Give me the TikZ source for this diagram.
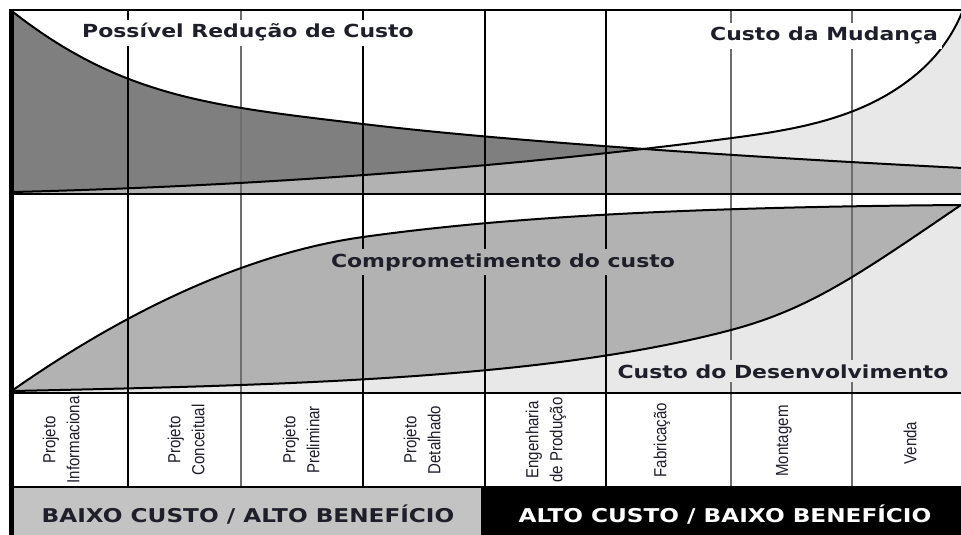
\documentclass[tikz,border=0pt]{standalone}
\usepackage{fontspec}
\setmainfont{Liberation Sans}
\newfontfamily\curvefont{DejaVu Sans}[FakeStretch=1.22]
\newfontfamily\phasefont{Liberation Sans}[FakeStretch=0.86]
\definecolor{darkfill}{HTML}{7F7F7F}
\definecolor{midfill}{HTML}{B2B2B2}
\definecolor{lightfill}{HTML}{E8E8E8}
\definecolor{barfill}{HTML}{C3C3C3}
\definecolor{ink}{HTML}{1F1F2A}
\definecolor{rulegray}{HTML}{6E6E6E}

\begin{document}
\begin{tikzpicture}[x=1pt, y=-1pt,
    curve/.style = {line width=2pt, line join=round},
    frame/.style = {line width=2.5pt},
    divider/.style = {line width=1.4pt},
    title/.style = {font=\curvefont\bfseries\fontsize{18}{20}\selectfont, text=ink, inner sep=4pt},
    band/.style = {font=\curvefont\bfseries\fontsize{19}{22}\selectfont, inner sep=0pt},
    phase/.style = {font=\phasefont\fontsize{17.5}{24}\selectfont, text=ink, rotate=90, align=center, inner sep=0pt},
    reducao/.style = {insert path={.. controls (123,97.8) and (213,106) .. (363,124) .. controls (513,142) and (763,158) .. (963,168)}},
    mudanca/.style = {insert path={.. controls (300,185) and (550,162) .. (732,138) .. controls (802,128.8) and (863,117) .. (913,77) .. controls (933,61) and (951,40) .. (963,10)}},
    comprometimento/.style = {insert path={.. controls (133,306) and (253,252.4) .. (363,237) .. controls (513,216) and (700,207) .. (961,205)}},
    desenvolvimento/.style = {insert path={.. controls (300,385) and (550,378) .. (731,330) .. controls (811,308.8) and (861,273) .. (961,205)}}]

\useasboundingbox (0,0) rectangle (961,535);

\fill[lightfill] (13,192) [mudanca] -- (963,194) -- (13,194) -- cycle;
\fill[darkfill] (13,12) [reducao] -- (963,194) -- (13,194) -- cycle;
\begin{scope}
  \clip (13,12) [reducao] -- (963,194) -- (13,194) -- cycle;
  \fill[midfill] (13,192) [mudanca] -- (963,194) -- (13,194) -- cycle;
\end{scope}
\fill[midfill] (13,390) [comprometimento] -- (961,393) -- (13,393) -- cycle;
\fill[lightfill] (13,391) [desenvolvimento] -- (961,393) -- (13,393) -- cycle;

\fill[barfill] (13,487) rectangle (481,535);
\fill[black] (481,487) rectangle (963,535);

\draw[divider] (128,10) -- (128,487);
\draw[divider, rulegray] (241,10) -- (241,487);
\draw[divider] (363,10) -- (363,487);
\draw[divider] (485,10) -- (485,487);
\draw[divider] (606,10) -- (606,487);
\draw[divider, rulegray] (731,10) -- (731,487);
\draw[divider, rulegray] (852,10) -- (852,487);

\draw[curve] (13,12) [reducao];
\draw[curve] (13,192) [mudanca];
\draw[curve] (13,390) [comprometimento];
\draw[curve] (13,391) [desenvolvimento];

\draw[frame] (11,10) -- (963,10);
\draw[frame] (13,194) -- (963,194);
\draw[frame] (13,393) -- (963,393);
\draw[frame] (13,487) -- (963,487);
\draw[line width=5pt] (11,8.75) -- (11,535);

\node[title, fill=white, anchor=base] (reducaoTitle) at (248,38) {Possível Redução de Custo};
\node[title, fill=white, anchor=base] (mudancaTitle) at (824,41) {Custo da Mudança};
\node[title, fill=midfill, anchor=base] (comprometimentoTitle) at (503,267) {Comprometimento do custo};
\node[title, fill=lightfill, anchor=base] (desenvolvimentoTitle) at (783,378) {Custo do Desenvolvimento};

\node[phase] (informacional) at (61,440) {Projeto\\Informaciona};
\node[phase] (conceitual) at (186,440) {Projeto\\Conceitual};
\node[phase] (preliminar) at (301,440) {Projeto\\Preliminar};
\node[phase] (detalhado) at (422,440) {Projeto\\Detalhado};
\node[phase] (engenharia) at (546,440) {Engenharia\\de Produção};
\node[phase] (fabricacao) at (662,440) {Fabricação};
\node[phase] (montagem) at (784,441) {Montagem};
\node[phase] (venda) at (910,443) {Venda};

\node[band, text=ink, anchor=base] (baixoCusto) at (248,522) {BAIXO CUSTO / ALTO BENEFÍCIO};
\node[band, text=white, anchor=base] (altoCusto) at (725,522) {ALTO CUSTO / BAIXO BENEFÍCIO};
\end{tikzpicture}
\end{document}
